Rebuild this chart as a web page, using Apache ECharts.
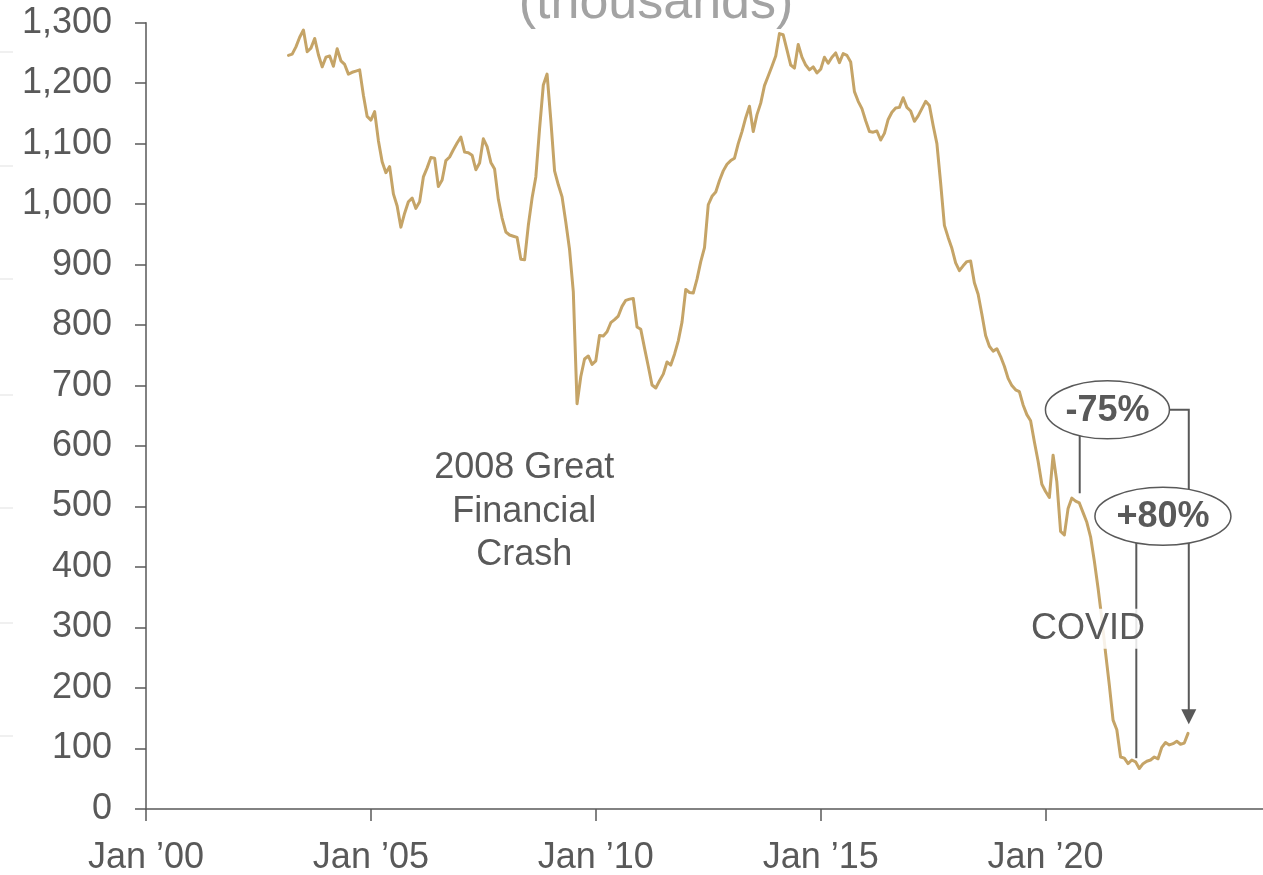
<!DOCTYPE html>
<html>
<head>
<meta charset="utf-8">
<script src="https://cdn.jsdelivr.net/npm/echarts@6/dist/echarts.min.js"></script>
<style>
  html, body { margin: 0; padding: 0; background: #ffffff; }
  #chart { width: 1263px; height: 875px; }
</style>
</head>
<body>
<div id="chart"></div>
<script>
// Monthly series, in thousands, starting March 2003
const START_YEAR = 2003;
const START_MONTH = 3;
const units = [
  1246, 1248, 1260, 1276, 1288, 1252, 1258, 1274, 1247, 1227,
  1243, 1245, 1228, 1257, 1237, 1231, 1215, 1218, 1220, 1222, 1180, 1145,
  1139, 1153, 1105, 1070, 1052, 1062, 1017, 997, 962, 985, 1004, 1010,
  993, 1004, 1045, 1060, 1077, 1076, 1029, 1040, 1072, 1078, 1090, 1101,
  1111, 1086, 1085, 1081, 1057, 1068, 1108, 1095, 1069, 1058, 1008, 977,
  954, 949, 947, 945, 909, 908, 965, 1010, 1045, 1125, 1197, 1215,
  1139, 1055, 1032, 1012, 970, 925, 855, 670, 715, 744, 749, 735,
  741, 783, 782, 789, 804, 809, 815, 831, 841, 843, 844, 797,
  793, 762, 732, 701, 696, 708, 719, 739, 734, 752, 774, 805,
  859, 854, 853, 876, 905, 928, 999, 1013, 1020, 1039, 1055, 1066,
  1072, 1076, 1100, 1120, 1143, 1162, 1120, 1148, 1167, 1196, 1212, 1228,
  1245, 1282, 1280, 1255, 1230, 1225, 1264, 1243, 1230, 1222, 1227, 1217,
  1223, 1243, 1233, 1243, 1250, 1234, 1249, 1246, 1235, 1186, 1170, 1158,
  1138, 1120, 1119, 1121, 1106, 1117, 1140, 1152, 1159, 1160, 1176, 1160,
  1154, 1137, 1146, 1158, 1170, 1163, 1130, 1100, 1035, 965, 945, 927,
  903, 890, 898, 905, 906, 870, 851, 818, 783, 765, 757, 761,
  748, 732, 712, 700, 693, 690, 668, 652, 642, 607, 575, 537,
  525, 515, 585, 541, 459, 453, 497, 514, 509, 506, 490, 474,
  450, 410, 365, 315, 258, 205, 147, 131, 86, 84, 75, 81,
  78, 67, 75, 79, 81, 86, 83, 102, 110, 106, 108, 112,
  107, 109, 125
];

// x axis: months since January 2000
const X_MAX_MONTHS = 298;
const xTickLabels = ['Jan \u201900', 'Jan \u201905', 'Jan \u201910', 'Jan \u201915', 'Jan \u201920'];

// Annotation anchors, in [months since Jan 2000, thousands]
const crisisText = '2008 Great\nFinancial\nCrash';
const crisisAnchor = [100.9, 491];
const covidText = 'COVID';
const covidAnchor = [251.3, 298];
const dropText = '-75%';
const dropCenter = [256.5, 660];
const dropLeader = [[249.1, 660], [249.1, 522]];
const dropBracket = [[256.5, 660], [278.2, 660], [278.2, 140]];
const riseText = '+80%';
const riseCenter = [271.3, 484];
const riseLeader = [[264.2, 484], [264.2, 84]];

const FONT = '"Liberation Sans", Arial, sans-serif';
const INK = '#595959';
const GOLD = '#c5a467';

const offset = (START_YEAR - 2000) * 12 + (START_MONTH - 1);
const seriesData = units.map((v, i) => [offset + i, v]);

const chart = echarts.init(document.getElementById('chart'), null, { renderer: 'canvas' });

chart.setOption({
  animation: false,
  backgroundColor: '#ffffff',
  grid: { left: 146, right: 0, top: 22.7, bottom: 66, containLabel: false, outerBoundsMode: 'none' },
  xAxis: {
    type: 'value',
    min: 0,
    max: X_MAX_MONTHS,
    interval: 60,
    axisLine: { show: true, onZero: false, lineStyle: { color: INK, width: 1.5 } },
    axisTick: { show: true, length: 12, lineStyle: { color: INK, width: 1.5 } },
    splitLine: { show: false },
    axisLabel: {
      margin: 31,
      color: INK,
      fontSize: 36,
      fontFamily: FONT,
      showMaxLabel: false,
      formatter: v => xTickLabels[Math.round(v / 60)] || ''
    }
  },
  yAxis: {
    type: 'value',
    min: 0,
    max: 1300,
    interval: 100,
    axisLine: { show: true, lineStyle: { color: INK, width: 1.5 } },
    axisTick: { show: true, length: 11, lineStyle: { color: INK, width: 1.5 } },
    splitLine: { show: false },
    axisLabel: {
      margin: 34,
      color: INK,
      fontSize: 36,
      fontFamily: FONT,
      formatter: v => v.toLocaleString('en-US')
    }
  },
  series: [{
    type: 'line',
    data: seriesData,
    showSymbol: false,
    symbol: 'none',
    lineStyle: { color: GOLD, width: 3, join: 'round', cap: 'round' },
    z: 2
  }]
});

function drawAnnotations() {
  const px = p => chart.convertToPixel({ xAxisIndex: 0, yAxisIndex: 0 }, p);
  const stroke = { stroke: INK, lineWidth: 2, fill: null };
  const els = [];

  // faint rules at the left edge
  [52, 166, 279, 395, 508, 623, 736].forEach(y => {
    els.push({ type: 'line', shape: { x1: 0, y1: y, x2: 13, y2: y },
      style: { stroke: '#e6e6e6', lineWidth: 1.2 }, z: 1, silent: true });
  });

  // units caption
  els.push({ type: 'text', x: 656, y: 4, z: 5, silent: true,
    style: { text: '(thousands)', fontSize: 52, fontFamily: FONT, fill: '#a3a3a3',
      align: 'center', verticalAlign: 'middle' } });

  // crisis label
  const c = px(crisisAnchor);
  els.push({ type: 'text', x: c[0], y: c[1], z: 12, silent: true,
    style: { text: crisisText, fontSize: 36, fontFamily: FONT, fill: INK,
      align: 'center', verticalAlign: 'middle', lineHeight: 43.5 } });

  // leader lines
  [dropLeader, dropBracket, riseLeader].forEach(path => {
    const pts = path.map(px);
    if (path === dropBracket) pts[pts.length - 1][1] -= 12;
    els.push({ type: 'polyline', shape: { points: pts }, style: stroke, z: 10, silent: true });
  });

  // arrow head at the end of the bracket
  const tip = px(dropBracket[dropBracket.length - 1]);
  els.push({ type: 'polygon', z: 10, silent: true,
    shape: { points: [[tip[0] - 7.5, tip[1] - 15], [tip[0] + 7.5, tip[1] - 15], [tip[0], tip[1]]] },
    style: { fill: INK, stroke: null } });

  // percentage bubbles
  [[dropCenter, dropText, 62], [riseCenter, riseText, 68]].forEach(([ctr, txt, rx]) => {
    const p = px(ctr);
    els.push({ type: 'ellipse', z: 11, silent: true,
      shape: { cx: p[0], cy: p[1], rx: rx, ry: 29 },
      style: { fill: '#ffffff', stroke: INK, lineWidth: 1.5 } });
    els.push({ type: 'text', x: p[0], y: p[1] + 1, z: 12, silent: true,
      style: { text: txt, fontSize: 36, fontWeight: 'bold', fontFamily: FONT, fill: INK,
        align: 'center', verticalAlign: 'middle' } });
  });

  // COVID label over a soft white box
  const v = px(covidAnchor);
  els.push({ type: 'text', x: v[0], y: v[1], z: 13, silent: true,
    style: { text: covidText, fontSize: 36, fontFamily: FONT, fill: INK,
      align: 'center', verticalAlign: 'middle',
      backgroundColor: 'rgba(255,255,255,0.85)', padding: [2, 2, 2, 2] } });

  chart.setOption({ graphic: { elements: els } });
}

drawAnnotations();
</script>
</body>
</html>
